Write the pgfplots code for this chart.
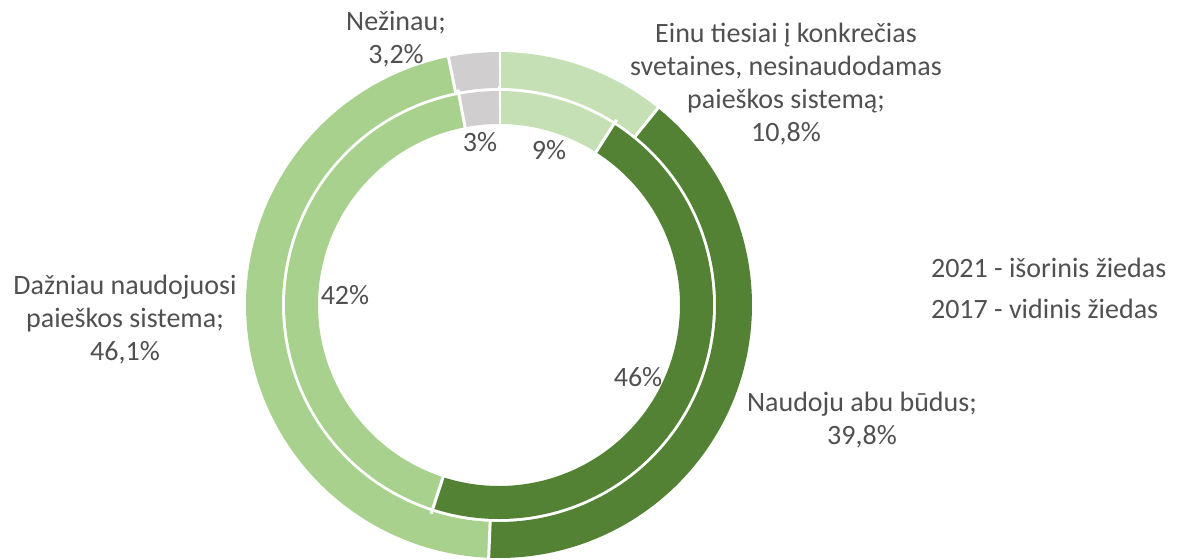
\documentclass[border=0pt]{standalone}
\usepackage{pgfplots}
\pgfplotsset{compat=1.18}
\usepackage{pgfplotstable}
\usepackage{fontspec}
\setmainfont{Carlito}
\definecolor{cA}{HTML}{C5E0B4}
\definecolor{cB}{HTML}{548235}
\definecolor{cC}{HTML}{A9D18E}
\definecolor{cD}{HTML}{D0CECE}
\definecolor{txt}{HTML}{505050}
\tikzset{lbl/.style={font=\fontsize{14}{16.5}\selectfont, text=txt}}

% 2021 (outer ring)
\pgfplotstableread{
value color
10.8 cA
39.8 cB
46.1 cC
3.2  cD
}\tblOuter
% 2017 (inner ring)
\pgfplotstableread{
value color
9  cA
46 cB
42 cC
3  cD
}\tblInner

% #1 table, #2 mid radius (px), #3 thickness (pt)
\newcommand\ring[3]{%
  \pgfplotstablegetrowsof{#1}\edef\rgN{\pgfplotsretval}%
  \gdef\rgTotal{0}%
  \pgfplotsforeachungrouped \rgI in {1,...,\rgN}{%
    \pgfmathtruncatemacro\rgR{\rgI-1}%
    \pgfplotstablegetelem{\rgR}{value}\of{#1}%
    \pgfmathsetmacro\rgTot{\rgTotal+\pgfplotsretval}\xdef\rgTotal{\rgTot}}%
  \gdef\rgCum{0}%
  \pgfplotsforeachungrouped \rgI in {1,...,\rgN}{%
    \pgfmathtruncatemacro\rgR{\rgI-1}%
    \pgfplotstablegetelem{\rgR}{value}\of{#1}\edef\rgV{\pgfplotsretval}%
    \pgfplotstablegetelem{\rgR}{color}\of{#1}\edef\rgC{\pgfplotsretval}%
    \pgfmathsetmacro\rgA{90-360/\rgTotal*\rgCum}%
    \pgfmathsetmacro\rgB{90-360/\rgTotal*(\rgCum+\rgV)}%
    \pgfmathtruncatemacro\rgS{max(3,2*abs(\rgA-\rgB))}%
    \edef\temp{\noexpand\addplot[draw=\rgC, line width=#3, line cap=butt, domain=\rgA:\rgB, samples=\rgS, variable=\noexpand\tt, no markers] ({499+#2*cos(\noexpand\tt)},{254+#2*sin(\noexpand\tt)});}%
    \temp
    \edef\temp{\noexpand\addplot[draw=white, line width=1.5pt, domain={#2-22}:{#2+22}, samples=2, no markers] ({499+x*cos(\rgA)},{254+x*sin(\rgA)});}%
    \temp
    \pgfmathsetmacro\rgCumNew{\rgCum+\rgV}\xdef\rgCum{\rgCumNew}%
  }%
}

\begin{document}
\begin{tikzpicture}
\useasboundingbox (0,0) rectangle (594.5pt,279.5pt);
\begin{axis}[at={(0,0)}, anchor=south west, scale only axis,
  width=594.5pt, height=279.5pt, xmin=0, xmax=1189, ymin=0, ymax=559,
  hide axis, clip=false]
\ring{\tblOuter}{235}{18pt}
\ring{\tblInner}{197.5}{16.5pt}
% labels outer
\node[lbl, align=center] at (axis cs:396,520) {Nežinau;\\3,2\%};
\node[lbl, align=center] at (axis cs:786,475) {Einu tiesiai į konkrečias\\svetaines, nesinaudodamas\\paieškos sistemą;\\10,8\%};
\node[lbl, align=center] at (axis cs:125,239) {Dažniau naudojuosi\\paieškos sistema;\\46,1\%};
\node[lbl, align=center] at (axis cs:862,139) {Naudoju abu būdus;\\39,8\%};
% labels inner
\node[lbl] at (axis cs:480,417) {3\%};
\node[lbl] at (axis cs:549,409) {9\%};
\node[lbl] at (axis cs:345,264) {42\%};
\node[lbl] at (axis cs:638,182) {46\%};
% legend text
\node[lbl, anchor=west] at (axis cs:924,291) {2021 - išorinis žiedas};
\node[lbl, anchor=west] at (axis cs:924,250) {2017 - vidinis žiedas};
\end{axis}
\end{tikzpicture}
\end{document}
